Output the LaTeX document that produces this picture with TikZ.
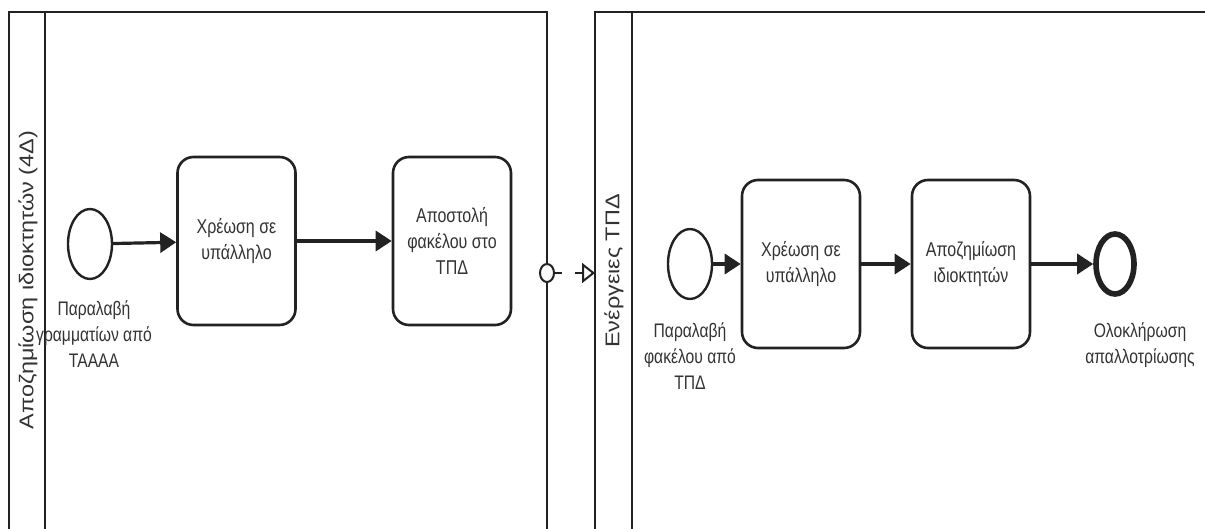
\documentclass[tikz,border=0pt]{standalone}
\usepackage{fontspec}
\usepackage{graphicx}
\setmainfont{Liberation Sans}[FakeStretch=0.8]
\newfontfamily\hdrfont{Liberation Sans}
\usetikzlibrary{shapes.geometric,arrows.meta}
\definecolor{ink}{HTML}{222222}
\definecolor{txt}{HTML}{333333}

\begin{document}
\begin{tikzpicture}[x=0.5pt,y=-0.5pt,
  pool/.style={draw=ink,line width=1pt},
  lanetitle/.style={rotate=90,text=txt,inner sep=0pt,font=\hdrfont\fontsize{11.7}{14}\selectfont},
  task/.style={draw=ink,line width=1.3pt,rounded corners=8pt,minimum width=59pt,
    minimum height=84pt,align=center,text=txt,inner sep=0pt,
    font=\fontsize{10}{13}\selectfont},
  startev/.style={ellipse,draw=ink,line width=1.2pt,fill=white,minimum width=22pt,
    minimum height=35pt,inner sep=0pt},
  endev/.style={ellipse,draw=ink,line width=2.8pt,fill=white,minimum width=19pt,
    minimum height=30pt,inner sep=0pt},
  evlabel/.style={align=center,text=txt,inner sep=0pt,font=\fontsize{9.8}{13}\selectfont},
  flow/.style={draw=ink,line width=1.6pt,-{Triangle[length=8pt,width=10pt]}},
  msgflow/.style={draw=ink,line width=1pt,dash pattern=on 3.5pt off 6.5pt,
    -{Triangle[open,length=6.5pt,width=10pt,line width=1pt]}},
  msgstart/.style={ellipse,draw=ink,line width=1pt,fill=white,minimum width=7pt,
    minimum height=9pt,inner sep=0pt}]

\clip (0,0) rectangle (1205,529);
\fill[white] (0,0) rectangle (1205,529);

% left pool
\draw[pool] (9,12) rectangle (547,545);
\draw[pool] (45,12) -- (45,545);
\node[lanetitle] (titleA) at (28,280)
  {\scalebox{1}[0.85]{Αποζημίωση ιδιοκτητών (4Δ)}};

% right pool
\draw[pool] (595,12) rectangle (1220,545);
\draw[pool] (632,12) -- (632,545);
\node[lanetitle] (titleB) at (614,271)
  {\scalebox{1}[0.85]{Ενέργειες ΤΠΔ}};

% left process
\node[startev] (s1) at (90,244) {};
\node[evlabel] (s1l) at (94,334) {Παραλαβή\\γραμματίων από\\ΤΑΑΑΑ};
\node[task] (t1) at (236.5,241) {Χρέωση σε\\υπάλληλο};
\node[task] (t2) at (452,241) {Αποστολή\\φακέλου στο\\ΤΠΔ};
\draw[flow] (s1) -- (t1);
\draw[flow] (t1) -- (t2);

% right process
\node[startev] (s2) at (690,264) {};
\node[evlabel] (s2l) at (690,356) {Παραλαβή\\φακέλου από\\ΤΠΔ};
\node[task] (t3) at (801,264) {Χρέωση σε\\υπάλληλο};
\node[task] (t4) at (971,264) {Αποζημίωση\\ιδιοκτητών};
\node[endev] (e2) at (1115,264) {};
\node[evlabel] (e2l) at (1140,345) {Ολοκλήρωση\\απαλλοτρίωσης};
\draw[flow] (s2) -- (t3);
\draw[flow] (t3) -- (t4);
\draw[flow] (t4) -- (e2);

% message flow between the pools
\node[msgstart] (m0) at (547,273) {};
\coordinate (m1) at (595,273);
\draw[msgflow] (m0) -- (m1);

\end{tikzpicture}
\end{document}
